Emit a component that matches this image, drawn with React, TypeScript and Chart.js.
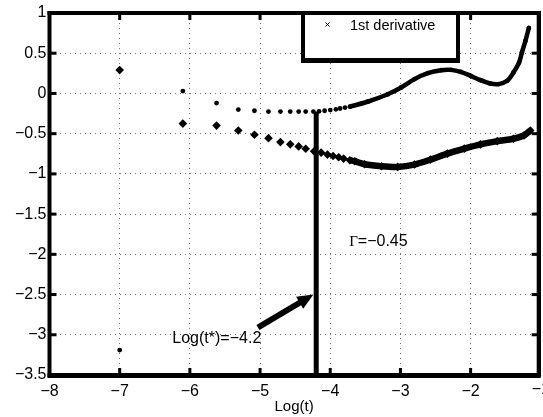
import React, { useEffect, useRef } from "react";
import { Chart, registerables } from "chart.js";

Chart.register(...registerables);

// ---- data ----
const xTickValues = [-8, -7, -6, -5, -4, -3, -2, -1];
const yTickValues = [1, 0.5, 0, -0.5, -1, -1.5, -2, -2.5, -3, -3.5];

// small-dot series (upper)
const dotX = [-7, -6.1, -5.62, -5.31, -5.08, -4.88, -4.71, -4.57, -4.45, -4.35, -4.24, -4.16, -4.08, -4.0, -3.92, -3.86, -3.79, -3.72, -3.46, -3.18, -2.99, -2.8, -2.61, -2.42, -2.28, -2.14, -2.0, -1.86, -1.72, -1.6, -1.48, -1.39, -1.31, -1.27, -1.22, -1.17];
const dotY = [-3.19, 0.03, -0.12, -0.2, -0.215, -0.225, -0.225, -0.225, -0.225, -0.225, -0.225, -0.222, -0.215, -0.207, -0.197, -0.187, -0.176, -0.164, -0.1, -0.01, 0.074, 0.178, 0.252, 0.289, 0.293, 0.268, 0.219, 0.165, 0.123, 0.116, 0.157, 0.259, 0.383, 0.506, 0.651, 0.815];

// diamond series (lower)
const diaX = [-7, -6.1, -5.62, -5.31, -5.08, -4.88, -4.71, -4.57, -4.45, -4.35, -4.23, -4.13, -4.04, -3.96, -3.88, -3.81, -3.72, -3.65, -3.51, -3.27, -3.04, -2.8, -2.57, -2.33, -2.09, -1.86, -1.62, -1.39, -1.24, -1.15];
const diaY = [0.29, -0.375, -0.4, -0.46, -0.514, -0.556, -0.605, -0.633, -0.658, -0.687, -0.72, -0.736, -0.76, -0.778, -0.794, -0.81, -0.83, -0.843, -0.88, -0.905, -0.913, -0.884, -0.822, -0.748, -0.686, -0.633, -0.593, -0.563, -0.522, -0.46];

// where the dense (continuous) part of each series starts
const dotLineFrom = -3.75;
const diaLineFrom = -3.75;

// axis ranges
const xMin = -8, xMax = -1.03;
const yMin = -3.5, yMax = 1;

// annotations (data coordinates)
const tStarX = -4.2;
const tStarTop = -0.23;
const arrowFrom = [-5.03, -2.91];
const arrowTo = [-4.24, -2.5];
const tStarText = "Log(t*)=\u22124.2";
const tStarPos = [-6.25, -3.053];
const gammaSymbol = "\u0393";
const gammaText = "=\u22120.45";
const gammaPos = [-3.731, -1.843];
const legendText = "1st derivative";
const xTitle = "Log(t)";

const SANS = "'Liberation Sans', Arial, Helvetica, sans-serif";
const SERIF = "'Liberation Serif', 'Times New Roman', serif";

const fmt = (v: number) => String(v).replace("-", "\u2212");

const decorPlugin = {
  id: "decor",
  afterDraw(chart: any) {
    const ctx = chart.ctx;
    const xs = chart.scales.x;
    const ys = chart.scales.y;
    const L = xs.getPixelForValue(xMin);
    const R = xs.getPixelForValue(xMax);
    const T = ys.getPixelForValue(yMax);
    const B = ys.getPixelForValue(yMin);
    ctx.save();
    ctx.setLineDash([]);
    ctx.strokeStyle = "#000";
    ctx.fillStyle = "#000";

    // frame
    ctx.fillRect(L - 2, T - 2, R - L + 4, 4);
    ctx.fillRect(L - 2, B - 2, R - L + 4, 5);
    ctx.fillRect(L - 2, T - 2, 4, B - T + 4);
    ctx.fillRect(R - 2, T - 2, 4, B - T + 4);

    // inward tick marks
    const tl = 7, tw = 3;
    for (const v of xTickValues) {
      const p = xs.getPixelForValue(v);
      if (p < L - 0.5 || p > R + 0.5) continue;
      ctx.fillRect(p - tw / 2, B - tl, tw, tl);
      ctx.fillRect(p - tw / 2, T, tw, tl);
    }
    for (const v of yTickValues) {
      const p = ys.getPixelForValue(v);
      ctx.fillRect(L, p - tw / 2, tl, tw);
      ctx.fillRect(R - tl, p - tw / 2, tl, tw);
    }

    // vertical marker line
    const vx = xs.getPixelForValue(tStarX);
    const vt = ys.getPixelForValue(tStarTop);
    ctx.fillRect(vx - 2.5, vt, 5, B - vt);

    // arrow
    const x0 = xs.getPixelForValue(arrowFrom[0]);
    const y0 = ys.getPixelForValue(arrowFrom[1]);
    const x1 = xs.getPixelForValue(arrowTo[0]);
    const y1 = ys.getPixelForValue(arrowTo[1]);
    const dx = x1 - x0, dy = y1 - y0;
    const len = Math.hypot(dx, dy);
    const ux = dx / len, uy = dy / len;
    const head = 16, hw = 7;
    ctx.lineWidth = 6;
    ctx.beginPath();
    ctx.moveTo(x0, y0);
    ctx.lineTo(x1 - ux * (head - 2), y1 - uy * (head - 2));
    ctx.stroke();
    ctx.beginPath();
    ctx.moveTo(x1, y1);
    ctx.lineTo(x1 - ux * head - uy * hw, y1 - uy * head + ux * hw);
    ctx.lineTo(x1 - ux * head + uy * hw, y1 - uy * head - ux * hw);
    ctx.closePath();
    ctx.fill();

    // x tick label just outside the plotted range
    ctx.font = `16px ${SANS}`;
    ctx.textAlign = "center";
    ctx.textBaseline = "top";
    for (const v of xTickValues) {
      if (v <= xMax) continue;
      ctx.fillText(fmt(v), xs.getPixelForValue(v), B + 7);
    }

    // text annotations
    ctx.textBaseline = "middle";
    ctx.textAlign = "left";
    ctx.font = `16px ${SANS}`;
    ctx.fillText(tStarText, xs.getPixelForValue(tStarPos[0]), ys.getPixelForValue(tStarPos[1]));
    const gx = xs.getPixelForValue(gammaPos[0]);
    const gy = ys.getPixelForValue(gammaPos[1]);
    ctx.font = `15px ${SERIF}`;
    ctx.fillText(gammaSymbol, gx, gy);
    const gw = ctx.measureText(gammaSymbol).width;
    ctx.font = `16px ${SANS}`;
    ctx.fillText(gammaText, gx + gw, gy);

    // legend box
    const lx = 303, ly = T, lw = 155, lh = 47;
    ctx.fillStyle = "#fff";
    ctx.fillRect(lx, ly, lw, lh);
    ctx.fillStyle = "#000";
    ctx.fillRect(lx - 2, ly - 2, lw + 4, 4);
    ctx.fillRect(lx - 2, ly + lh - 2, lw + 4, 5);
    ctx.fillRect(lx - 2, ly - 2, 4, lh + 4);
    ctx.fillRect(lx + lw - 2, ly - 2, 4, lh + 4);
    ctx.lineWidth = 1;
    const mx = 327.5, my = 24.5, ms = 2;
    ctx.beginPath();
    ctx.moveTo(mx - ms, my - ms);
    ctx.lineTo(mx + ms, my + ms);
    ctx.moveTo(mx + ms, my - ms);
    ctx.lineTo(mx - ms, my + ms);
    ctx.stroke();
    ctx.font = `14.5px ${SANS}`;
    ctx.fillText(legendText, 350, 26);

    ctx.restore();
  },
};

export default function App() {
  const ref = useRef<HTMLCanvasElement>(null);

  useEffect(() => {
    if (!ref.current) return;
    const dotData = dotX.map((x, i) => ({ x, y: dotY[i] }));
    const diaData = diaX.map((x, i) => ({ x, y: diaY[i] }));
    const gridColor = "rgba(0,0,0,0.55)";
    const solidBorder = { display: true, width: 4, color: "#000" };
    const chart = new Chart(ref.current, {
      type: "scatter",
      data: {
        datasets: [
          {
            label: "dots",
            data: dotData,
            showLine: true,
            borderColor: "#000",
            backgroundColor: "#000",
            borderWidth: 4.5,
            tension: 0.3,
            pointRadius: 2.4,
            pointBorderWidth: 0,
            pointStyle: "circle",
            segment: {
              borderColor: (c: any) => (c.p0.parsed.x >= dotLineFrom ? "#000" : "rgba(0,0,0,0)"),
            },
          } as any,
          {
            label: "diamonds",
            data: diaData,
            showLine: true,
            borderColor: "#000",
            backgroundColor: "#000",
            borderWidth: 6.5,
            tension: 0.3,
            pointRadius: 4.3,
            pointBorderWidth: 0,
            pointStyle: "rectRot",
            segment: {
              borderColor: (c: any) => (c.p0.parsed.x >= diaLineFrom ? "#000" : "rgba(0,0,0,0)"),
            },
          } as any,
        ],
      },
      options: {
        responsive: false,
        animation: false,
        devicePixelRatio: 1,
        layout: { padding: { top: 13, right: 1.3, left: 0, bottom: 0 } },
        plugins: { legend: { display: false }, tooltip: { enabled: false } },
        scales: {
          x: {
            type: "linear",
            position: "bottom",
            min: xMin,
            max: xMax,
            afterBuildTicks: (s: any) => {
              s.ticks = xTickValues.filter((v) => v >= xMin && v <= xMax).map((value) => ({ value }));
            },
            afterFit: (s: any) => {
              s.height = 42;
            },
            ticks: {
              autoSkip: false,
              maxRotation: 0,
              padding: 0,
              color: "#000",
              font: { family: SANS, size: 16 },
              callback: (v: any) => fmt(Number(v)),
            },
            grid: { color: gridColor, lineWidth: 1, drawTicks: true, tickLength: 7, tickColor: "rgba(0,0,0,0)" },
            border: { display: false, dash: [1, 4] },
            title: {
              display: true,
              text: xTitle,
              color: "#000",
              font: { family: SANS, size: 15 },
              padding: { top: 0, bottom: 1 },
            },
          },
          x2: {
            type: "linear",
            position: "top",
            min: xMin,
            max: xMax,
            afterFit: (s: any) => {
              s.height = 0;
            },
            ticks: { display: false },
            grid: { display: false, drawTicks: false },
            border: solidBorder,
          },
          y: {
            type: "linear",
            position: "left",
            min: yMin,
            max: yMax,
            afterFit: (s: any) => {
              s.width = 49.5;
            },
            ticks: {
              stepSize: 0.5,
              padding: 3,
              color: "#000",
              font: { family: SANS, size: 16 },
              callback: (v: any) => fmt(Number(v)),
            },
            grid: { color: gridColor, lineWidth: 1, drawTicks: false },
            border: { display: false, dash: [1, 4] },
          },
          y2: {
            type: "linear",
            position: "right",
            min: yMin,
            max: yMax,
            afterFit: (s: any) => {
              s.width = 0;
            },
            ticks: { display: false },
            grid: { display: false, drawTicks: false },
            border: solidBorder,
          },
        },
      } as any,
      plugins: [decorPlugin],
    });
    return () => chart.destroy();
  }, []);

  return (
    <div style={{ position: "absolute", left: 0, top: 0, width: 543, height: 417, background: "#fff" }}>
      <canvas ref={ref} width={543} height={417} style={{ display: "block" }} />
    </div>
  );
}
